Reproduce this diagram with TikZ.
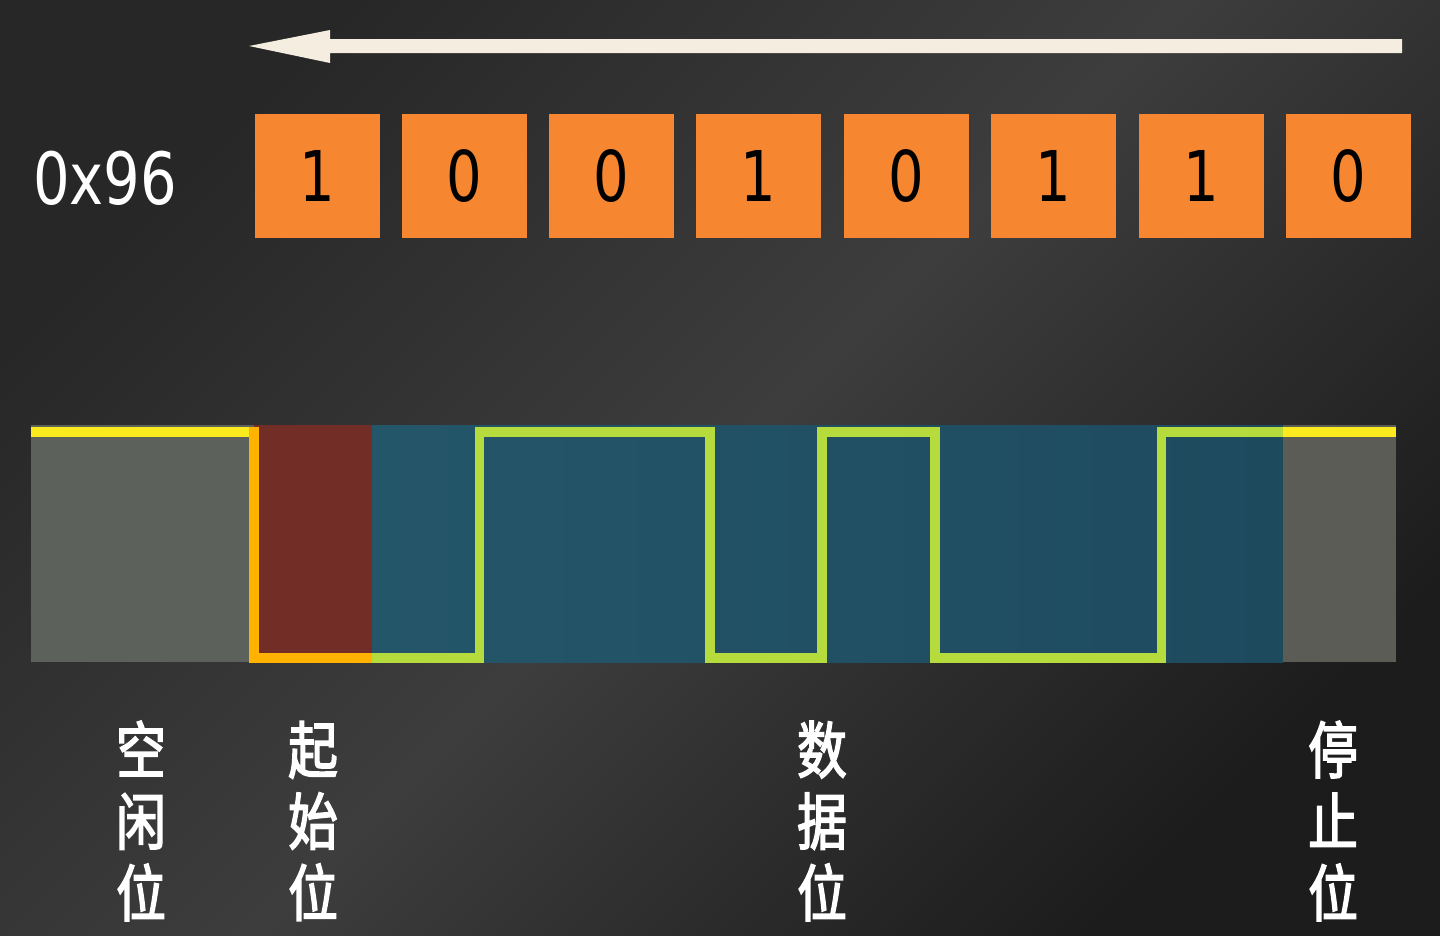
\documentclass[tikz,border=0pt]{standalone}
\usepackage{fontspec}
\newfontfamily\cjk[FakeStretch=0.8,FakeBold=2.5]{Noto Sans CJK SC}
\newfontfamily\dig[FakeStretch=0.8]{DejaVu Sans}
\definecolor{bgA}{HTML}{272727}
\definecolor{bgB}{HTML}{3D3D3D}
\definecolor{bgC}{HTML}{1C1C1C}
\definecolor{cream}{HTML}{F4EDE0}
\definecolor{boxor}{HTML}{F6862F}
\definecolor{idlegrey}{HTML}{5D615B}
\definecolor{stopgrey}{HTML}{5A5C55}
\definecolor{startred}{HTML}{722E26}
\definecolor{datablueL}{HTML}{24566A}
\definecolor{datablueR}{HTML}{1E4A5E}
\definecolor{lineyel}{HTML}{FBEA1E}
\definecolor{lineor}{HTML}{FFB300}
\definecolor{linegr}{HTML}{B5DC3C}
\begin{document}
\begin{tikzpicture}[x=1pt,y=-1pt,
  bitbox/.style={fill=boxor, draw=none, minimum width=125pt, minimum height=124pt, inner sep=0pt,
    font=\dig\fontsize{70}{70}\selectfont, text=black},
  lab/.style={text=white, align=center, inner sep=0pt, font=\cjk\fontsize{62}{71.5}\selectfont},
  wave/.style={line width=9.5pt, line cap=butt, line join=miter}]
\useasboundingbox (0,0) rectangle (1440,935);
% background
\begin{scope}[y=1pt]
\shade[top color=bgA, bottom color=bgC, middle color=bgB, shading angle=45] (0,-935) rectangle (1440,0);
\end{scope}
% arrow
\fill[cream] (1402,39) -- (330,39) -- (330,30) -- (249,46) -- (330,63) -- (330,53) -- (1402,53) -- cycle;
% hex value
\node[text=white, anchor=west, inner sep=0pt, font=\dig\fontsize{72}{72}\selectfont] (hex) at (33,178) {0x96};
% bit boxes
\node[bitbox] (b1) at (317.5,176) {1};
\node[bitbox] (b2) at (464.5,176) {0};
\node[bitbox] (b3) at (611.5,176) {0};
\node[bitbox] (b4) at (758.5,176) {1};
\node[bitbox] (b5) at (906.5,176) {0};
\node[bitbox] (b6) at (1053.5,176) {1};
\node[bitbox] (b7) at (1201.5,176) {1};
\node[bitbox] (b8) at (1348.5,176) {0};
% frame regions
\fill[idlegrey] (31,425) rectangle (254,662);
\fill[startred] (254,425) rectangle (372,662);
\shade[left color=datablueL, right color=datablueR] (372,425) rectangle (1283,662);
\fill[stopgrey] (1283,425) rectangle (1396,662);
% waveform
\draw[wave, lineyel] (31,432) -- (249.5,432);
\draw[wave, lineor] (254,427.25) -- (254,658) -- (372,658);
\draw[wave, linegr] (372,658) -- (479.5,658) -- (479.5,432) -- (710,432) -- (710,658)
  -- (822,658) -- (822,432) -- (935,432) -- (935,658) -- (1161.5,658) -- (1161.5,432) -- (1283,432);
\draw[wave, lineyel] (1283,432) -- (1396,432);
% labels
\node[lab] (idle) at (141,821) {空\\闲\\位};
\node[lab] (start) at (313,821) {起\\始\\位};
\node[lab] (data) at (822,821) {数\\据\\位};
\node[lab] (stop) at (1333,821) {停\\止\\位};
\end{tikzpicture}
\end{document}
